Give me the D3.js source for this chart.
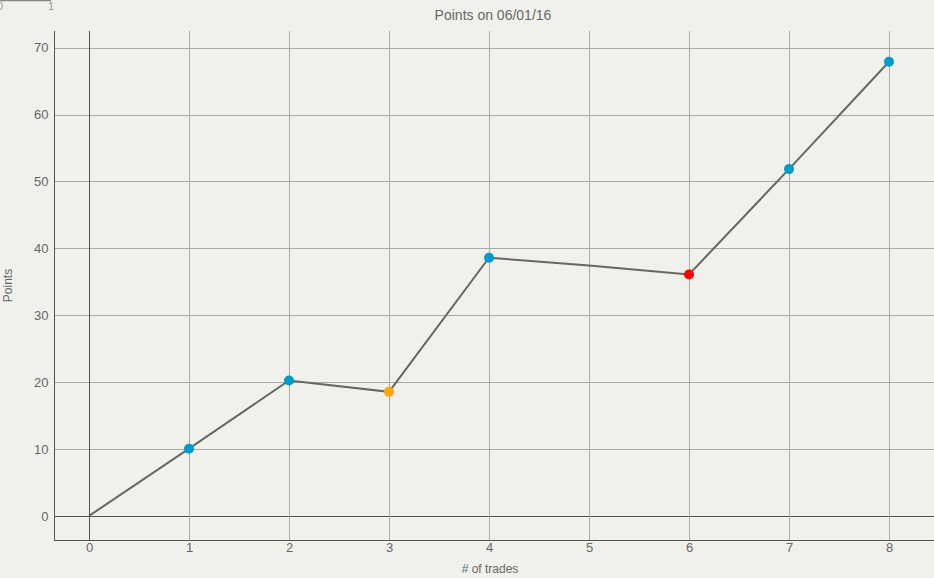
<!DOCTYPE html>
<html>
<head>
    <title>Points on 06/01/16</title>
    <style>
        body { margin: 0; background: #f1f1ec; }
        svg { display: block; font-family: "Liberation Sans", Arial, sans-serif; }
        text { fill: #666; }
    </style>
</head>
<body>
    <svg width="934" height="578"></svg>
    <script src="https://d3js.org/d3.v7.min.js"></script>
    <script>
        // data
        var trades = [0, 1, 2, 3, 4, 5, 6, 7, 8];
        var points = [0, 10.05, 20.25, 18.55, 38.6, 37.45, 36.1, 51.85, 67.9];
        // colour of the dot on each trade (null = no dot)
        var dotColors = [null, "#0099cc", "#0099cc", "#ffa500", "#0099cc", null, "#ff0000", "#0099cc", "#0099cc"];
        var xTicks = [0, 1, 2, 3, 4, 5, 6, 7, 8];
        var yTicks = [0, 10, 20, 30, 40, 50, 60, 70];

        var svg = d3.select("svg");
        // plot box (note: "top" is taken by window.top)
        var plotLeft = 54, plotRight = 934, plotTop = 31, plotBottom = 540;

        var x = d3.scaleLinear().domain([-0.35, 8.45]).range([plotLeft, plotRight]);
        var y = d3.scaleLinear().domain([-3.6, 72.5]).range([plotBottom, plotTop]);

        // little stray axis in the corner
        var stray = d3.scaleLinear().domain([0, 1]).range([0, 51]);
        svg.append("line")
            .attr("x1", 0).attr("x2", stray(1))
            .attr("y1", 0.5).attr("y2", 0.5)
            .style("stroke", "#888").style("stroke-width", 1.5);
        svg.append("g").selectAll("text")
            .data([0, 1]).enter().append("text")
            .attr("x", function(d) { return stray(d); })
            .attr("y", 10)
            .attr("text-anchor", "middle")
            .style("font-size", "11px")
            .style("fill", "#999")
            .text(function(d) { return d; });

        // title
        svg.append("text")
            .attr("x", 493).attr("y", 20)
            .attr("text-anchor", "middle")
            .style("font-size", "14px")
            .text("Points on 06/01/16");

        // grid
        var grid = svg.append("g");
        grid.selectAll(".hy").data(yTicks).enter().append("line")
            .attr("x1", plotLeft).attr("x2", plotRight)
            .attr("y1", function(d) { return Math.round(y(d)) + 0.5; })
            .attr("y2", function(d) { return Math.round(y(d)) + 0.5; })
            .style("stroke", function(d) { return d === 0 ? "#555" : "#aaa"; })
            .style("stroke-width", 1);
        grid.selectAll(".vx").data(xTicks).enter().append("line")
            .attr("y1", plotTop).attr("y2", plotBottom)
            .attr("x1", function(d) { return Math.round(x(d)) + 0.5; })
            .attr("x2", function(d) { return Math.round(x(d)) + 0.5; })
            .style("stroke", function(d) { return d === 0 ? "#555" : "#aaa"; })
            .style("stroke-width", 1);

        // axes
        var yAxis = d3.axisLeft(y).tickValues(yTicks).tickSize(0).tickPadding(6);
        var xAxis = d3.axisBottom(x).tickValues(xTicks).tickSize(0).tickPadding(2);
        var ya = svg.append("g").attr("transform", "translate(" + (plotLeft + 0.5) + ",0)").call(yAxis);
        var xa = svg.append("g").attr("transform", "translate(0," + (plotBottom + 0.5) + ")").call(xAxis);
        [ya, xa].forEach(function(a) {
            a.select(".domain").style("stroke", "#555");
            a.selectAll("text").style("font-size", "13px").style("fill", "#666");
        });
        ya.select(".domain").attr("d", "M0," + plotTop + "V" + plotBottom);
        xa.select(".domain").attr("d", "M" + plotLeft + ",0H" + plotRight);

        // axis titles
        svg.append("text")
            .attr("transform", "translate(12," + ((plotTop + plotBottom) / 2) + ") rotate(-90)")
            .attr("text-anchor", "middle")
            .style("font-size", "12px")
            .text("Points");
        svg.append("text")
            .attr("x", 490).attr("y", 573)
            .attr("text-anchor", "middle")
            .style("font-size", "12px")
            .text("# of trades");

        // line
        var line = d3.line()
            .x(function(d, i) { return x(trades[i]); })
            .y(function(d) { return y(d); });
        svg.append("path")
            .datum(points)
            .attr("d", line)
            .style("fill", "none")
            .style("stroke", "#666")
            .style("stroke-width", 2);

        // dots
        svg.append("g").selectAll("circle")
            .data(points.map(function(p, i) { return { x: trades[i], y: p, c: dotColors[i] }; })
                .filter(function(d) { return d.c; }))
            .enter().append("circle")
            .attr("cx", function(d) { return x(d.x); })
            .attr("cy", function(d) { return y(d.y); })
            .attr("r", 5)
            .style("fill", function(d) { return d.c; });
    </script>
</body>
</html>
